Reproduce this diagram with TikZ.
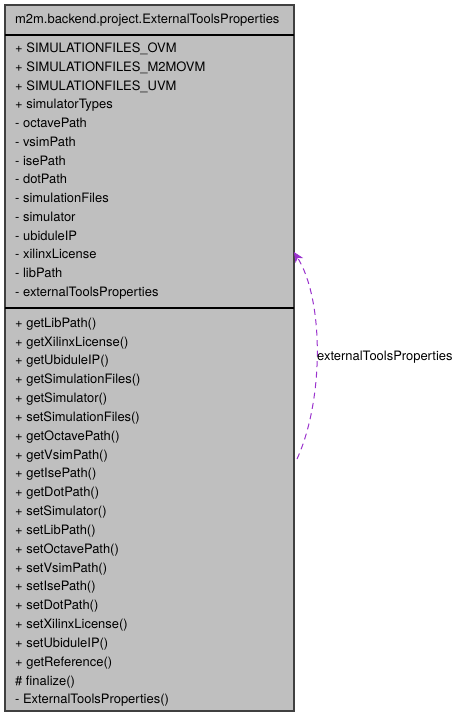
\documentclass[tikz,border=0pt]{standalone}
\usepackage{fontspec}
\setmainfont{TeX Gyre Heros}
\usetikzlibrary{arrows.meta}
\definecolor{boxfill}{HTML}{BFBFBF}
\definecolor{boxline}{HTML}{404040}
\definecolor{usage}{HTML}{9A32CD}
\begin{document}
\begin{tikzpicture}[x=1pt,y=-1pt,
  txt/.style={anchor=base west,inner sep=0pt,font=\fontsize{12.95}{14}\selectfont},
  sepline/.style={line width=1.3pt,black},
  usedash/.style={usage,line width=1pt,dash pattern=on 6pt off 4.5pt},
]
\useasboundingbox (0,0) rectangle (460,717);
\path[fill=boxfill,draw=boxline,line width=1.3pt] (5,5) rectangle (294,711);
\coordinate (boxtop) at (5,5);
\draw[sepline] (5,35) -- (294,35);
\draw[sepline] (5,308) -- (294,308);
\node[txt] (title) at (15,24) {m2m.backend.project.ExternalToolsProperties};
\foreach \t [count=\i from 0] in {%
  + SIMULATIONFILES\_OVM,
  + SIMULATIONFILES\_M2MOVM,
  + SIMULATIONFILES\_UVM,
  + simulatorTypes,
  - octavePath,
  - vsimPath,
  - isePath,
  - dotPath,
  - simulationFiles,
  - simulator,
  - ubiduleIP,
  - xilinxLicense,
  - libPath,
  - externalToolsProperties}
  \node[txt] (a\i) at (15,52.5+18.75*\i) {\t};
\foreach \t [count=\i from 0] in {%
  + getLibPath(),
  + getXilinxLicense(),
  + getUbiduleIP(),
  + getSimulationFiles(),
  + getSimulator(),
  + setSimulationFiles(),
  + getOctavePath(),
  + getVsimPath(),
  + getIsePath(),
  + getDotPath(),
  + setSimulator(),
  + setLibPath(),
  + setOctavePath(),
  + setVsimPath(),
  + setIsePath(),
  + setDotPath(),
  + setXilinxLicense(),
  + setUbiduleIP(),
  + getReference(),
  \# finalize(),
  - ExternalToolsProperties()}
  \node[txt] (m\i) at (15,327.3+18.83*\i) {\t};
\coordinate (from) at (297,459);
\coordinate (to) at (294,252);
\draw[usedash,-{Stealth[length=10pt,width=9pt,inset=3pt,line width=0.8pt]}]
  (from) .. controls (324,400) and (324,300) .. (to);
\node[txt] (lbl) at (317,360.7) {externalToolsProperties};
\end{tikzpicture}
\end{document}
